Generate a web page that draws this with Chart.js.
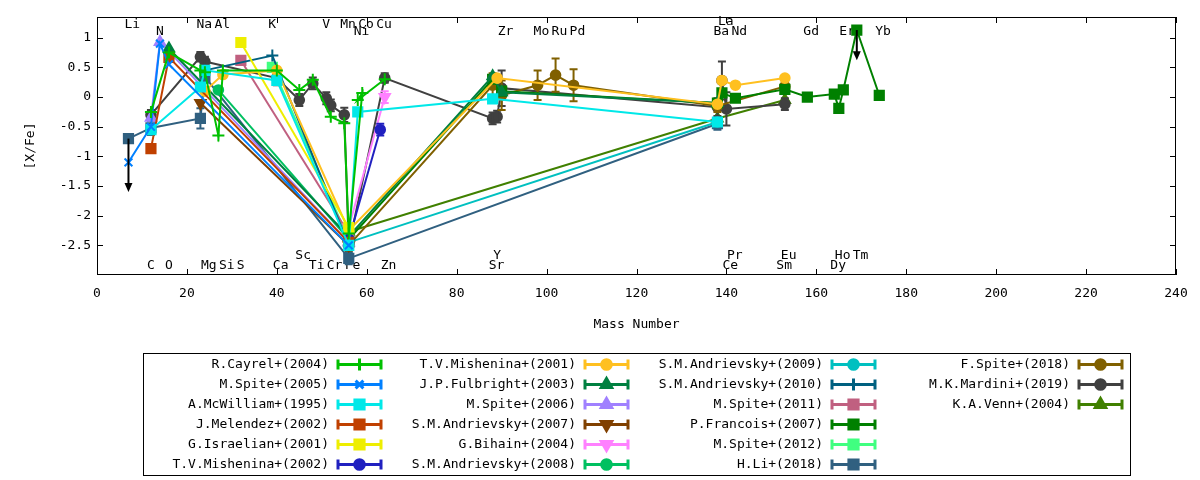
<!DOCTYPE html>
<html>
<head>
<meta charset="utf-8">
<script src="https://cdn.jsdelivr.net/npm/chart.js@4.4.1/dist/chart.umd.min.js"></script>
<style>
  html, body { margin: 0; padding: 0; background: #fff; }
  #wrap { width: 1200px; height: 480px; }
</style>
</head>
<body>
<div id="wrap"><canvas id="chart" width="1200" height="480"></canvas></div>
<script>
// ── Elements: symbol and mass number used on the x axis ─────────
const ELEM_SYMBOLS = ['Li','C','N','O','Na','Mg','Al','Si','S','K','Ca','Sc','Ti','V','Cr','Mn','Fe','Co','Ni','Cu','Zn',
                      'Sr','Y','Zr','Mo','Ru','Pd','Ba','La','Ce','Pr','Nd','Sm','Eu','Gd','Dy','Ho','Er','Tm','Yb'];
const ELEM_MASSES  = [7,12,14,16,23,24,27,28,32,39,40,45,48,51,52,55,56,59,58,63,64,
                      88,89,90,98,102,106,138,139,140,141,142,152,153,158,164,165,166,169,174];

// element name rows drawn inside the plot
const TOP_LABELS       = ['Li','Na','Al','K','V','Mn','Co','Cu'];
const TOP_LABELS_LOW   = ['N','Ni','Zr','Mo','Ru','Pd','Ba','Nd','Gd','Er','Yb'];
const TOP_LABELS_HIGH  = ['La'];
const BOTTOM_LABELS    = ['C','O','Mg','Si','S','Ca','Ti','Cr','Fe','Zn','Sr','Ce','Sm','Dy'];
const BOTTOM_LABELS_UP = ['Sc','Y','Pr','Eu','Ho','Tm'];

// axis ticks
const X_TICKS = [0,20,40,60,80,100,120,140,160,180,200,220,240];
const Y_TICKS = [-2.5,-2,-1.5,-1,-0.5,0,0.5,1];

// ── Series data ([X/Fe]; Fe point is [Fe/H]) ────────────────────
const cayrel04El  = ['C','O','Na','Mg','Al','Si','Ca','Sc','Ti','Cr','Mn','Fe','Co','Ni','Zn'];
const cayrel04Val = [-0.25,0.75,0.45,0.42,-0.65,0.45,0.45,0.12,0.29,-0.33,-0.44,-2.3,0.07,-0.05,0.3];

const spite05El  = ['Li','C','N','O','Fe'];
const spite05Val = [-1.1,-0.5,0.9,0.55,-2.5];

const mcwilliam95El  = ['C','Na','Mg','Ca','Fe','Ni','Sr','Ba'];
const mcwilliam95Val = [-0.55,0.17,0.45,0.28,-2.5,-0.25,-0.03,-0.42];

const melendez02El  = ['C','O','Fe'];
const melendez02Val = [-0.87,0.67,-2.45];

const israelian01El  = ['S','Fe'];
const israelian01Val = [0.92,-2.2];

const mishenina02El  = ['Fe','Cu'];
const mishenina02Val = [-2.4,-0.55];
const mishenina02Err = [0,0.1];

const mishenina01El  = ['Mg','Si','Ca','Fe','Y','Ba','La','Nd','Eu'];
const mishenina01Val = [0.1,0.38,0.45,-2.25,0.32,-0.12,0.28,0.2,0.32];

const fulbright03El  = ['O','Fe','Sr','Zr','Ba'];
const fulbright03Val = [0.82,-2.35,0.35,0.08,-0.1];

const spite06El  = ['C','N','Fe'];
const spite06Val = [-0.35,0.93,-2.45];

const andrievsky07El  = ['Na','Fe'];
const andrievsky07Val = [-0.1,-2.5];

const bihain04El  = ['Fe','Zn'];
const bihain04Val = [-2.2,0.0];
const bihain04Err = [0,0.1];

const andrievsky08El  = ['Al','Fe'];
const andrievsky08Val = [0.12,-2.4];

const andrievsky09El  = ['Fe','Ba'];
const andrievsky09Val = [-2.45,-0.42];

const andrievsky10El  = ['Mg','K','Fe'];
const andrievsky10Val = [0.45,0.7,-2.5];

const spite11El  = ['S','Fe'];
const spite11Val = [0.62,-2.3];

const francois07El  = ['Fe','Sr','Zr','Ba','La','Nd','Eu','Gd','Dy','Ho','Er','Tm','Yb'];
const francois07Val = [-2.4,0.3,0.1,-0.1,0.07,-0.02,0.13,0.0,0.05,-0.19,0.12,1.13,0.03];

const spite12El  = ['K','Fe'];
const spite12Val = [0.5,-2.4];

const li18El  = ['Li','C','Na','Mg','Fe','Ba'];
const li18Val = [-0.7,-0.52,-0.36,0.34,-2.72,-0.45];
const li18Err = [0,0.12,0.17,0.1,0.1,0.1];

const fspite18El  = ['Fe','Sr','Zr','Mo','Ru','Pd','Ba','Eu'];
const fspite18Val = [-2.5,0.2,0.03,0.2,0.37,0.2,-0.15,0.18];
const fspite18Err = [0.1,0.2,0.25,0.25,0.28,0.27,0.1,0.1];

const mardini19El  = ['C','Na','Mg','Ca','Sc','Ti','V','Cr','Mn','Fe','Zn','Sr','Y','Zr','Ba','La','Ce','Eu'];
const mardini19Val = [-0.3,0.68,0.6,0.32,-0.05,0.23,-0.02,-0.14,-0.3,-2.5,0.32,-0.36,-0.33,0.15,-0.17,0.28,-0.2,-0.12];
const mardini19Err = [0.08,0.08,0.08,0.12,0.1,0.1,0.1,0.1,0.12,0.2,0.08,0.1,0.1,0.3,0.15,0.32,0.28,0.1];

const venn04El  = ['Fe','Ba','Eu'];
const venn04Val = [-2.27,-0.36,-0.05];

// upper limits: series index, element, arrow end value
const LIMIT_SERIES = [17, 15];
const LIMIT_ELEM   = ['Li', 'Tm'];
const LIMIT_TO     = [-1.6, 0.62];

// ── Legend order, colours and point types ───────────────────────
const SERIES_LABELS = [
  'R.Cayrel+(2004)','M.Spite+(2005)','A.McWilliam+(1995)','J.Melendez+(2002)','G.Israelian+(2001)','T.V.Mishenina+(2002)',
  'T.V.Mishenina+(2001)','J.P.Fulbright+(2003)','M.Spite+(2006)','S.M.Andrievsky+(2007)','G.Bihain+(2004)','S.M.Andrievsky+(2008)',
  'S.M.Andrievsky+(2009)','S.M.Andrievsky+(2010)','M.Spite+(2011)','P.Francois+(2007)','M.Spite+(2012)','H.Li+(2018)',
  'F.Spite+(2018)','M.K.Mardini+(2019)','K.A.Venn+(2004)'
];
const SERIES_DATA = [
  [cayrel04El, cayrel04Val, null], [spite05El, spite05Val, null], [mcwilliam95El, mcwilliam95Val, null],
  [melendez02El, melendez02Val, null], [israelian01El, israelian01Val, null], [mishenina02El, mishenina02Val, mishenina02Err],
  [mishenina01El, mishenina01Val, null], [fulbright03El, fulbright03Val, null], [spite06El, spite06Val, null],
  [andrievsky07El, andrievsky07Val, null], [bihain04El, bihain04Val, bihain04Err], [andrievsky08El, andrievsky08Val, null],
  [andrievsky09El, andrievsky09Val, null], [andrievsky10El, andrievsky10Val, null], [spite11El, spite11Val, null],
  [francois07El, francois07Val, null], [spite12El, spite12Val, null], [li18El, li18Val, li18Err],
  [fspite18El, fspite18Val, fspite18Err], [mardini19El, mardini19Val, mardini19Err], [venn04El, venn04Val, null]
];
const SERIES_COLORS = [
  '#00c000','#0080ff','#00e8e8','#c04000','#eeee00','#2020c0',
  '#ffc020','#008040','#a080ff','#804000','#ff80ff','#00c060',
  '#00c0c0','#006080','#c06080','#008000','#40ff80','#306080',
  '#806000','#404040','#408000'
];
const SERIES_POINTS = [
  'cross','crossRot','rect','rect','rect','circle',
  'circle','triangle','triangle','invTriangle','invTriangle','circle',
  'circle','cross','rect','rect','rect','rect',
  'circle','circle','triangle'
];

// ── Helpers ─────────────────────────────────────────────────────
const FONT = '13px "DejaVu Sans Mono", monospace';
const massOf = el => ELEM_MASSES[ELEM_SYMBOLS.indexOf(el)];

function pointOpts(kind) {
  switch (kind) {
    case 'cross':       return { pointStyle: 'cross',    radius: 6,   rotation: 0 };
    case 'crossRot':    return { pointStyle: 'crossRot', radius: 5.5, rotation: 0 };
    case 'rect':        return { pointStyle: 'rect',     radius: 6.5, rotation: 0 };
    case 'triangle':    return { pointStyle: 'triangle', radius: 6,   rotation: 0 };
    case 'invTriangle': return { pointStyle: 'triangle', radius: 6,   rotation: 180 };
    default:            return { pointStyle: 'circle',   radius: 4.8, rotation: 0 };
  }
}

const datasets = SERIES_LABELS.map((label, i) => {
  const [els, vals, errs] = SERIES_DATA[i];
  const p = pointOpts(SERIES_POINTS[i]);
  return {
    label,
    data: els.map((el, k) => ({ x: massOf(el), y: vals[k], err: errs ? errs[k] : 0 })),
    showLine: true,
    borderColor: SERIES_COLORS[i],
    backgroundColor: SERIES_COLORS[i],
    borderWidth: 2,
    pointStyle: p.pointStyle,
    pointRadius: p.radius,
    pointRotation: p.rotation,
    pointBorderWidth: 2,
    pointHoverRadius: p.radius,
    tension: 0,
  };
});

// ── Plugin: gnuplot-like frame, labels, error bars, arrows, legend ──
const gnuplotLook = {
  id: 'gnuplotLook',
  beforeDatasetsDraw(chart) {
    const { ctx, scales: { x, y } } = chart;
    ctx.save();
    ctx.fillStyle = '#000';
    ctx.font = FONT;
    ctx.textAlign = 'left';
    ctx.textBaseline = 'middle';
    const rows = [[TOP_LABELS, 1.22], [TOP_LABELS_LOW, 1.11], [TOP_LABELS_HIGH, 1.27],
                  [BOTTOM_LABELS, -2.85], [BOTTOM_LABELS_UP, -2.68]];
    rows.forEach(([list, yv]) => list.forEach(el => {
      ctx.fillText(el, x.getPixelForValue(massOf(el)) - 4, y.getPixelForValue(yv));
    }));
    ctx.restore();
  },
  afterDatasetDraw(chart, args) {
    const { ctx, scales: { x, y } } = chart;
    const ds = chart.data.datasets[args.index];
    const area = chart.chartArea;
    ctx.save();
    ctx.beginPath();
    ctx.rect(area.left, area.top, area.right - area.left, area.bottom - area.top);
    ctx.clip();
    ctx.strokeStyle = ds.borderColor;
    ctx.lineWidth = 2;
    ds.data.forEach(d => {
      if (!d.err) return;
      const px = x.getPixelForValue(d.x);
      const y0 = y.getPixelForValue(d.y - d.err), y1 = y.getPixelForValue(d.y + d.err);
      ctx.beginPath();
      ctx.moveTo(px, y0); ctx.lineTo(px, y1);
      ctx.moveTo(px - 4, y0); ctx.lineTo(px + 4, y0);
      ctx.moveTo(px - 4, y1); ctx.lineTo(px + 4, y1);
      ctx.stroke();
    });
    ctx.restore();
  },
  afterDatasetsDraw(chart) {
    const { ctx, chartArea: a, scales: { x, y } } = chart;
    ctx.save();
    // upper-limit arrows
    ctx.strokeStyle = '#000';
    ctx.fillStyle = '#000';
    ctx.lineWidth = 2;
    LIMIT_SERIES.forEach((si, k) => {
      const [els, vals] = SERIES_DATA[si];
      const el = LIMIT_ELEM[k];
      const px = x.getPixelForValue(massOf(el));
      const pyFrom = y.getPixelForValue(vals[els.indexOf(el)]);
      const pyTo = y.getPixelForValue(LIMIT_TO[k]);
      ctx.beginPath();
      ctx.moveTo(px, pyFrom); ctx.lineTo(px, pyTo - 8);
      ctx.stroke();
      ctx.beginPath();
      ctx.moveTo(px - 4, pyTo - 9); ctx.lineTo(px + 4, pyTo - 9); ctx.lineTo(px, pyTo);
      ctx.closePath(); ctx.fill();
    });
    // frame and inward ticks
    ctx.lineWidth = 1;
    ctx.strokeRect(a.left + 0.5, a.top + 0.5, a.right - a.left - 1, a.bottom - a.top - 1);
    ctx.beginPath();
    X_TICKS.forEach(v => {
      const px = Math.round(x.getPixelForValue(v)) + 0.5;
      ctx.moveTo(px, a.bottom); ctx.lineTo(px, a.bottom - 6);
      ctx.moveTo(px, a.top); ctx.lineTo(px, a.top + 6);
    });
    Y_TICKS.forEach(v => {
      const py = Math.round(y.getPixelForValue(v)) + 0.5;
      ctx.moveTo(a.left, py); ctx.lineTo(a.left + 6, py);
      ctx.moveTo(a.right, py); ctx.lineTo(a.right - 6, py);
    });
    ctx.stroke();
    ctx.restore();
  },
  afterDraw(chart) {
    const { ctx, chartArea: a } = chart;
    ctx.save();
    ctx.fillStyle = '#000';
    ctx.font = FONT;
    // axis titles
    ctx.textAlign = 'center';
    ctx.textBaseline = 'middle';
    ctx.fillText('Mass Number', (a.left + a.right) / 2, 325);
    ctx.save();
    ctx.translate(31, (a.top + a.bottom) / 2);
    ctx.rotate(-Math.PI / 2);
    ctx.fillText('[X/Fe]', 0, 0);
    ctx.restore();
    // legend box
    ctx.strokeStyle = '#000';
    ctx.lineWidth = 1;
    ctx.strokeRect(143.5, 353.5, 987, 122);
    const textRight = [329, 576, 823, 1070];
    SERIES_LABELS.forEach((label, i) => {
      const col = Math.floor(i / 6), row = i % 6;
      const ty = 364.5 + row * 20;
      const tx = textRight[col];
      ctx.fillStyle = '#000';
      ctx.textAlign = 'right';
      ctx.fillText(label, tx, ty);
      const x0 = tx + 9, x1 = tx + 52, c = SERIES_COLORS[i];
      ctx.strokeStyle = c;
      ctx.fillStyle = c;
      ctx.lineWidth = 3;
      ctx.beginPath();
      ctx.moveTo(x0, ty); ctx.lineTo(x1, ty);
      ctx.moveTo(x0, ty - 5); ctx.lineTo(x0, ty + 5);
      ctx.moveTo(x1, ty - 5); ctx.lineTo(x1, ty + 5);
      ctx.stroke();
      const p = pointOpts(SERIES_POINTS[i]);
      Chart.helpers.drawPoint(ctx, { pointStyle: p.pointStyle, radius: p.radius, rotation: p.rotation, borderWidth: 2 },
                              (x0 + x1) / 2, ty);
    });
    ctx.restore();
  }
};

// ── Chart ───────────────────────────────────────────────────────
new Chart(document.getElementById('chart'), {
  type: 'scatter',
  data: { datasets },
  plugins: [gnuplotLook],
  options: {
    responsive: false,
    animation: false,
    devicePixelRatio: 1,
    layout: { padding: { left: 0, top: 17, right: 24, bottom: 0 } },
    plugins: { legend: { display: false }, tooltip: { enabled: false } },
    scales: {
      x: {
        type: 'linear', min: 0, max: 240,
        afterBuildTicks: s => { s.ticks = X_TICKS.map(v => ({ value: v })); },
        afterFit: s => { s.height = 205; },
        grid: { display: false, drawTicks: false },
        border: { display: false },
        ticks: { color: '#000', font: { family: '"DejaVu Sans Mono", monospace', size: 13 }, padding: 11,
                 maxRotation: 0, callback: v => String(v) },
      },
      y: {
        type: 'linear', min: -3, max: 1.35,
        afterBuildTicks: s => { s.ticks = Y_TICKS.map(v => ({ value: v })); },
        afterFit: s => { s.width = 97; },
        grid: { display: false, drawTicks: false },
        border: { display: false },
        ticks: { color: '#000', font: { family: '"DejaVu Sans Mono", monospace', size: 13 }, padding: 6,
                 callback: v => String(v) },
      }
    }
  }
});
</script>
</body>
</html>
